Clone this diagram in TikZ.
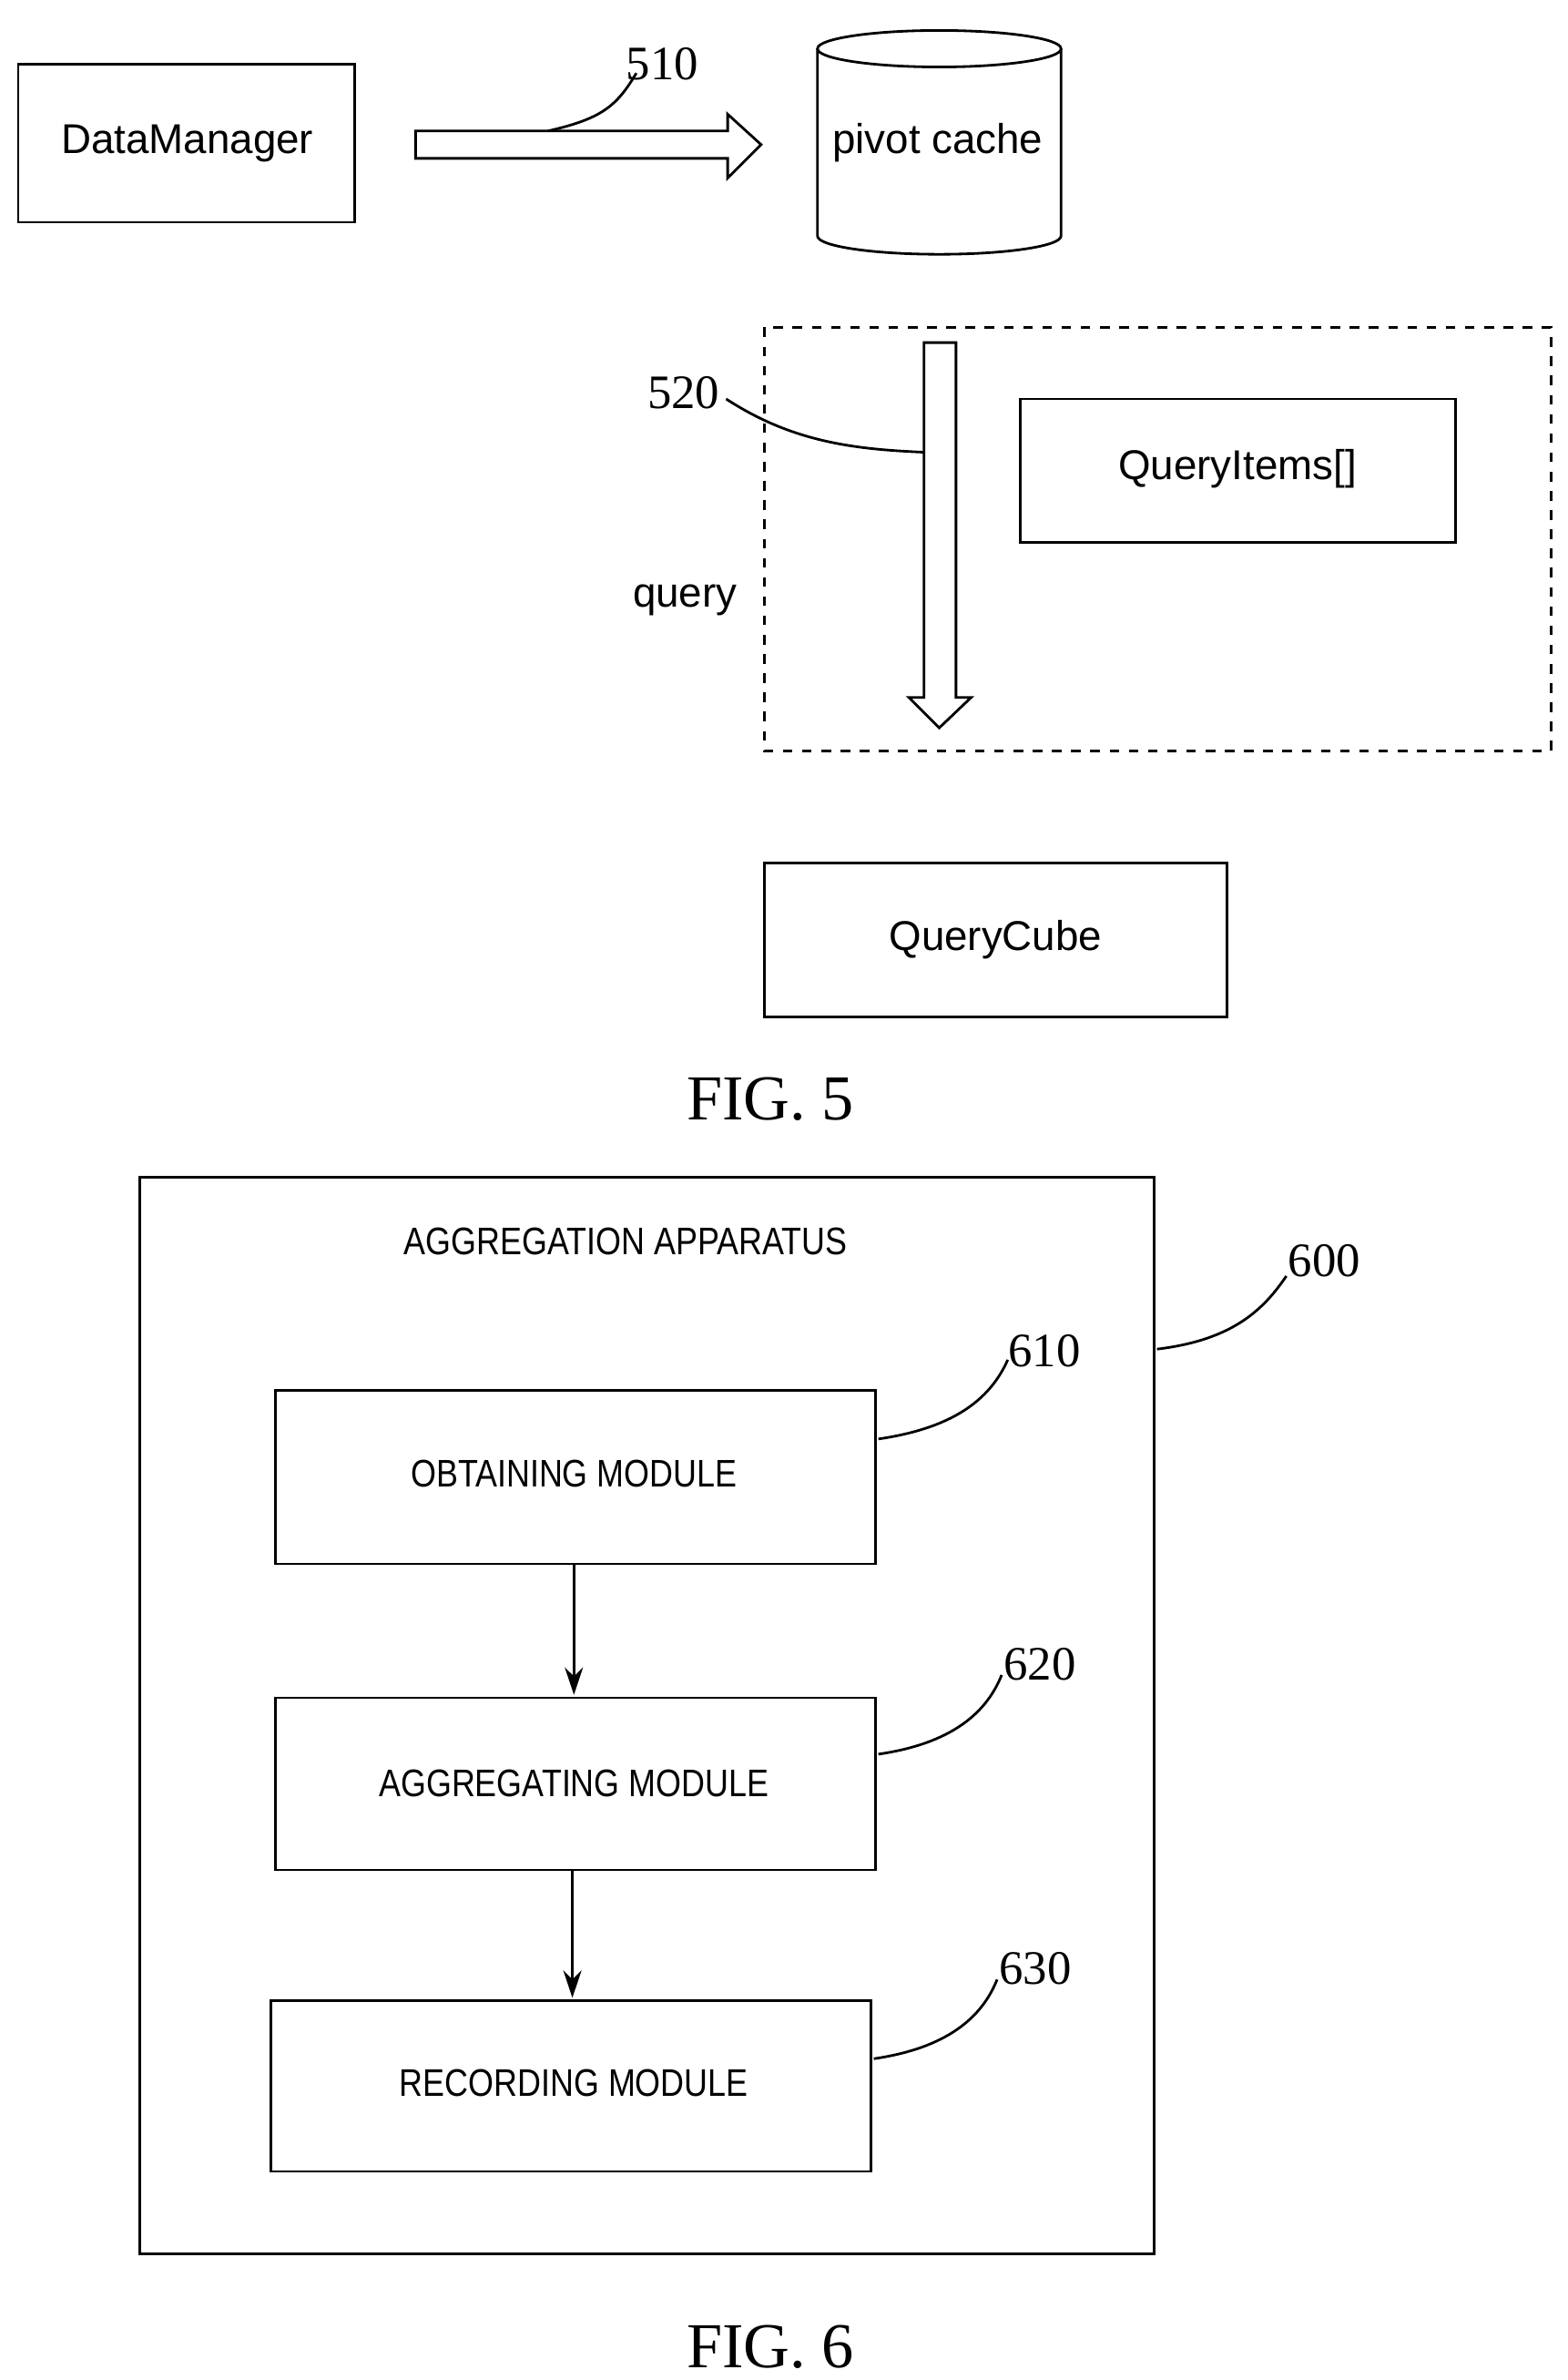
\documentclass[tikz,border=0pt]{standalone}
\usepackage{fontspec}
\setmainfont{Liberation Sans}
\newfontfamily\numfont{Liberation Serif}
\usetikzlibrary{shapes,arrows.meta}
\tikzset{>=stealth}
\tikzset{box/.style={draw,thick,inner sep=0pt},
  lbl/.style={font=\fontsize{13}{15}\selectfont},
  mod/.style={font=\fontsize{12}{14}\selectfont\addfontfeature{FakeStretch=0.85}},
  num/.style={font=\numfont\fontsize{15}{17}\selectfont},
  lead/.style={thick}}
\begin{document}
\begin{tikzpicture}[x=0.01671cm,y=-0.01671cm]
    \useasboundingbox (0,0) rectangle (1030,1563);

    % FIG. 5
    \draw[box] (12,42) rectangle (233,146);
    \node[lbl] (dm) at (123,94) {DataManager};

    \draw[thick,fill=white] (273,86) -- (478,86) -- (478,75) -- (500,95) -- (478,117) -- (478,104) -- (273,104) -- cycle;
    \coordinate (a510) at (360,86);
    \node[num] (n510) at (435,42) {510};
    \draw[lead] (a510) .. controls (395,78) and (405,70) .. (418,48);

    \draw[thick,fill=white] (537,32) -- (537,155) arc (180:0:80 and 12) -- (697,32);
    \draw[thick] (617,32) ellipse (80 and 12);
    \node[lbl] (pc) at (616,94) {pivot cache};

    \draw[thick,dashed] (502,215) rectangle (1019,493);
    \draw[thick,fill=white] (607,225) -- (628,225) -- (628,458) -- (638,458) -- (617,478) -- (597,458) -- (607,458) -- cycle;
    \coordinate (a520) at (607,297);
    \node[num] (n520) at (449,258) {520};
    \draw[lead] (477,262) .. controls (520,290) and (560,295) .. (a520);
    \draw[box] (670,262) rectangle (956,356);
    \node[lbl] (qi) at (813,308) {QueryItems[]};
    \node[lbl] (q) at (450,394) {query};

    \draw[box] (502,567) rectangle (806,668);
    \node[lbl] (qc) at (654,617) {QueryCube};
    \node[font=\numfont\fontsize{20}{22}\selectfont] (f5) at (506,722) {FIG. 5};

    % FIG. 6
    \draw[box] (92,773) rectangle (758,1480);
    \node[mod] (ap) at (411,815) {AGGREGATION APPARATUS};
    \node[num] (n600) at (870,828) {600};
    \draw[lead] (760,886) .. controls (810,880) and (830,860) .. (845,838);

    \draw[box] (181,913) rectangle (575,1027);
    \node[mod] (ob) at (377,968) {OBTAINING MODULE};
    \node[num] (n610) at (686,887) {610};
    \draw[lead] (577,945) .. controls (625,938) and (650,920) .. (662,893);

    \draw[box] (181,1115) rectangle (575,1228);
    \node[mod] (ag) at (377,1171) {AGGREGATING MODULE};
    \node[num] (n620) at (683,1093) {620};
    \draw[lead] (577,1152) .. controls (625,1145) and (648,1125) .. (658,1100);

    \draw[box] (178,1314) rectangle (572,1426);
    \node[mod] (rc) at (377,1368) {RECORDING MODULE};
    \node[num] (n630) at (680,1293) {630};
    \draw[lead] (574,1352) .. controls (622,1345) and (645,1325) .. (655,1300);

    \coordinate (o1) at (377,1027); \coordinate (o2) at (377,1113);
    \coordinate (g1) at (376,1228); \coordinate (g2) at (376,1312);
    \draw[thick,-{Stealth[length=3mm,width=2mm]}] (o1) -- (o2);
    \draw[thick,-{Stealth[length=3mm,width=2mm]}] (g1) -- (g2);
    \node[font=\numfont\fontsize{20}{22}\selectfont] (f6) at (506,1541) {FIG. 6};
\end{tikzpicture}
\end{document}
